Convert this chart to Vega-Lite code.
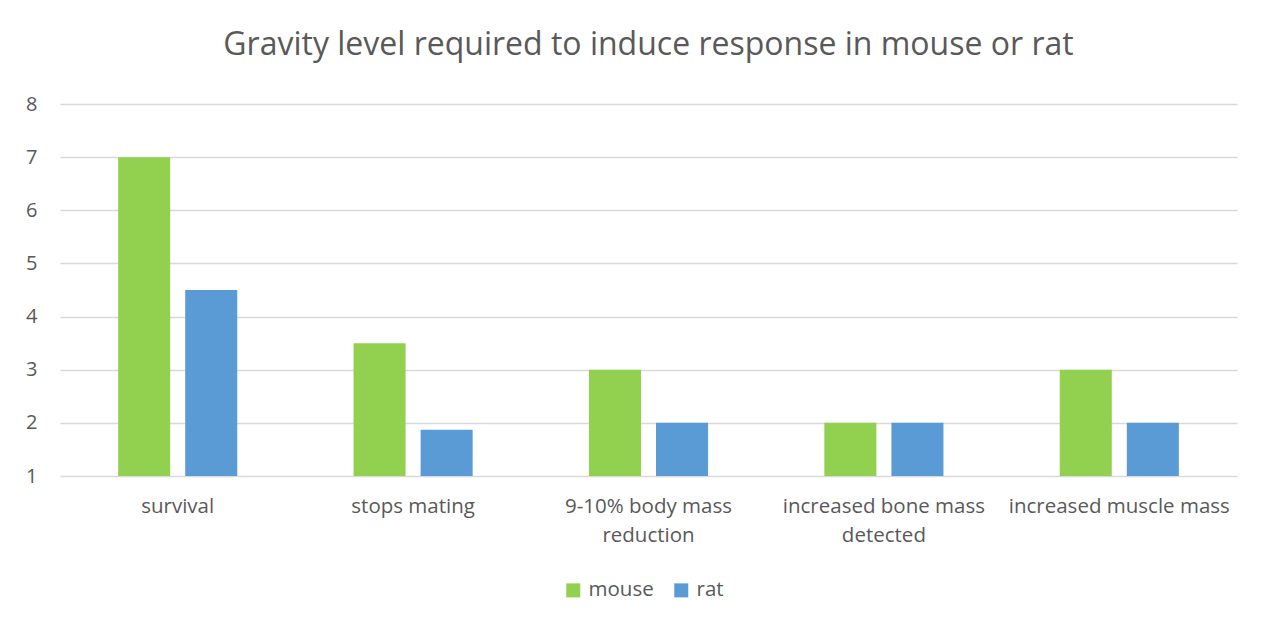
{
  "$schema": "https://vega.github.io/schema/vega-lite/v6.json",
  "width": 1177,
  "height": 372,
  "autosize": {"type": "none"},
  "padding": {"left": 60, "top": 104, "right": 29, "bottom": 150},
  "background": "white",
  "title": {
    "text": "Gravity level required to induce response in mouse or rat",
    "font": "Open Sans",
    "fontSize": 32,
    "fontWeight": "normal",
    "color": "#595959",
    "anchor": "middle",
    "offset": 32
  },
  "data": {
    "values": [
      {"response": "survival", "animal": "mouse", "gravity": 7},
      {"response": "survival", "animal": "rat", "gravity": 4.5},
      {"response": "stops mating", "animal": "mouse", "gravity": 3.5},
      {"response": "stops mating", "animal": "rat", "gravity": 1.87},
      {"response": "9-10% body mass reduction", "animal": "mouse", "gravity": 3},
      {"response": "9-10% body mass reduction", "animal": "rat", "gravity": 2},
      {"response": "increased bone mass detected", "animal": "mouse", "gravity": 2},
      {"response": "increased bone mass detected", "animal": "rat", "gravity": 2},
      {"response": "increased muscle mass", "animal": "mouse", "gravity": 3},
      {"response": "increased muscle mass", "animal": "rat", "gravity": 2}
    ]
  },
  "mark": {"type": "bar"},
  "encoding": {
    "x": {
      "field": "response",
      "type": "nominal",
      "sort": null,
      "title": null,
      "scale": {"paddingInner": 0.494, "paddingOuter": 0.247},
      "axis": {
        "labelAngle": 0,
        "labelFont": "Open Sans",
        "labelFontSize": 20.5,
        "labelColor": "#595959",
        "labelPadding": 20,
        "labelLineHeight": 29,
        "labelLimit": 300,
        "ticks": false,
        "domain": false,
        "grid": false,
        "labelExpr": "datum.value == '9-10% body mass reduction' ? ['9-10% body mass', 'reduction'] : datum.value == 'increased bone mass detected' ? ['increased bone mass', 'detected'] : datum.value"
      }
    },
    "xOffset": {
      "field": "animal",
      "type": "nominal",
      "scale": {"paddingInner": 0.224, "paddingOuter": 0}
    },
    "y": {
      "field": "gravity",
      "type": "quantitative",
      "title": null,
      "scale": {"domain": [1, 8], "zero": false, "nice": false},
      "axis": {
        "values": [1, 2, 3, 4, 5, 6, 7, 8],
        "labelFont": "Open Sans",
        "labelFontSize": 20,
        "labelColor": "#595959",
        "labelPadding": 23,
        "ticks": false,
        "domain": false,
        "gridColor": "#d9d9d9",
        "gridWidth": 1.3
      }
    },
    "y2": {"datum": 1},
    "color": {
      "field": "animal",
      "type": "nominal",
      "title": null,
      "scale": {"domain": ["mouse", "rat"], "range": ["#92d050", "#5b9bd5"]},
      "legend": {
        "orient": "none",
        "legendX": 503,
        "legendY": 476,
        "direction": "horizontal",
        "symbolType": "square",
        "symbolSize": 196,
        "symbolStrokeWidth": 0,
        "labelFont": "Open Sans",
        "labelFontSize": 20.5,
        "labelColor": "#595959",
        "labelOffset": 5,
        "columnPadding": 17
      }
    }
  },
  "config": {
    "view": {"stroke": null}
  }
}
